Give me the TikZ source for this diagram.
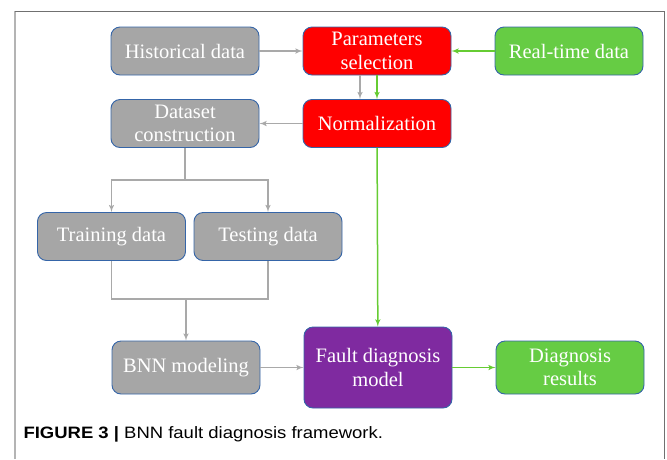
\documentclass[tikz,border=0pt]{standalone}
\usepackage{fontspec}
\setmainfont{Liberation Serif}
\newfontfamily\capfont[FakeStretch=1.12]{Liberation Sans}
\usetikzlibrary{arrows}

\definecolor{boxgrey}{HTML}{A6A6A6}
\definecolor{boxred}{HTML}{FF0000}
\definecolor{boxgreen}{HTML}{66CC44}
\definecolor{boxpurple}{HTML}{7F2AA0}
\definecolor{boxline}{HTML}{3565A8}
\definecolor{linegrey}{HTML}{A9A9A9}
\definecolor{linegreen}{HTML}{66CC33}
\definecolor{framedark}{HTML}{707070}
\definecolor{framelight}{HTML}{B4B4B4}

\begin{document}
\begin{tikzpicture}[x=1pt,y=-1pt,>=latex',node distance=192pt,
	box/.style={draw=boxline,line width=0.9pt,rounded corners=9pt,minimum width=148pt,minimum height=48pt,
		inner sep=0pt,align=center,text=white,font=\fontsize{20.5}{23.5}\selectfont},
	greybox/.style={box,fill=boxgrey},
	redbox/.style={box,fill=boxred},
	greenbox/.style={box,fill=boxgreen},
	purplebox/.style={box,fill=boxpurple},
	gline/.style={draw=linegrey,line width=1.5pt},
	nline/.style={draw=linegreen,line width=1.5pt}]

\useasboundingbox (0,0) rectangle (667,459);

% frame
\draw[framelight,line width=1.2pt] (15,459) -- (15,11);
\draw[framedark,line width=1pt] (15,11) -- (664,11) -- (664,459);

\node[greybox]   (hist) at (185,51)      				{Historical data};
\node[redbox]    (param)[right of=hist]      			{Parameters\\selection};
\node[greenbox]  (real)[right of=param]      			{Real-time data};
\node[greybox]   (dataset)[below of=hist,node distance=72.5pt]	{Dataset\\construction};
\node[redbox]    (norm)[below of=param,node distance=72.5pt]	{Normalization};
\node[greybox]   (train) at (111.5,236.5)      			{Training data};
\node[greybox]   (test)[right of=train,node distance=156.5pt]	{Testing data};
\node[greybox,minimum height=53pt]   (bnn) at (186,367.5)      	{BNN modeling};
\node[purplebox,minimum height=81pt] (fault)[right of=bnn]      {Fault diagnosis\\model};
\node[greenbox,minimum height=53pt]  (result)[right of=fault]  	{Diagnosis\\results};

\coordinate (split) at (185,180);
\coordinate (merge) at (186,299);

	\path[->] (hist)  edge[gline]  	(param)
						(real)  edge[nline]  	(param)
						([xshift=-17pt]param.south)  edge[gline]  	([xshift=-17pt]norm.north)
						(param)  edge[nline]  	(norm)
						(norm)  edge[gline]  	(dataset)
						(norm)  edge[nline]  	(fault)
						(merge)  edge[gline]  	(bnn)
						(bnn)  edge[gline]  	(fault)
						(fault)  edge[nline]  	(result);

	\draw[gline] (dataset.south) -- (split);
	\draw[gline,->] (split) -| (train.north);
	\draw[gline,->] (split) -| (test.north);
	\draw[gline] (train.south) |- (merge) -| (test.south);

\node[anchor=west,font=\capfont\fontsize{16.5}{20}\selectfont] (caption) at (20,434)
	{\textbf{FIGURE 3 |} BNN fault diagnosis framework.};
\end{tikzpicture}
\end{document}
